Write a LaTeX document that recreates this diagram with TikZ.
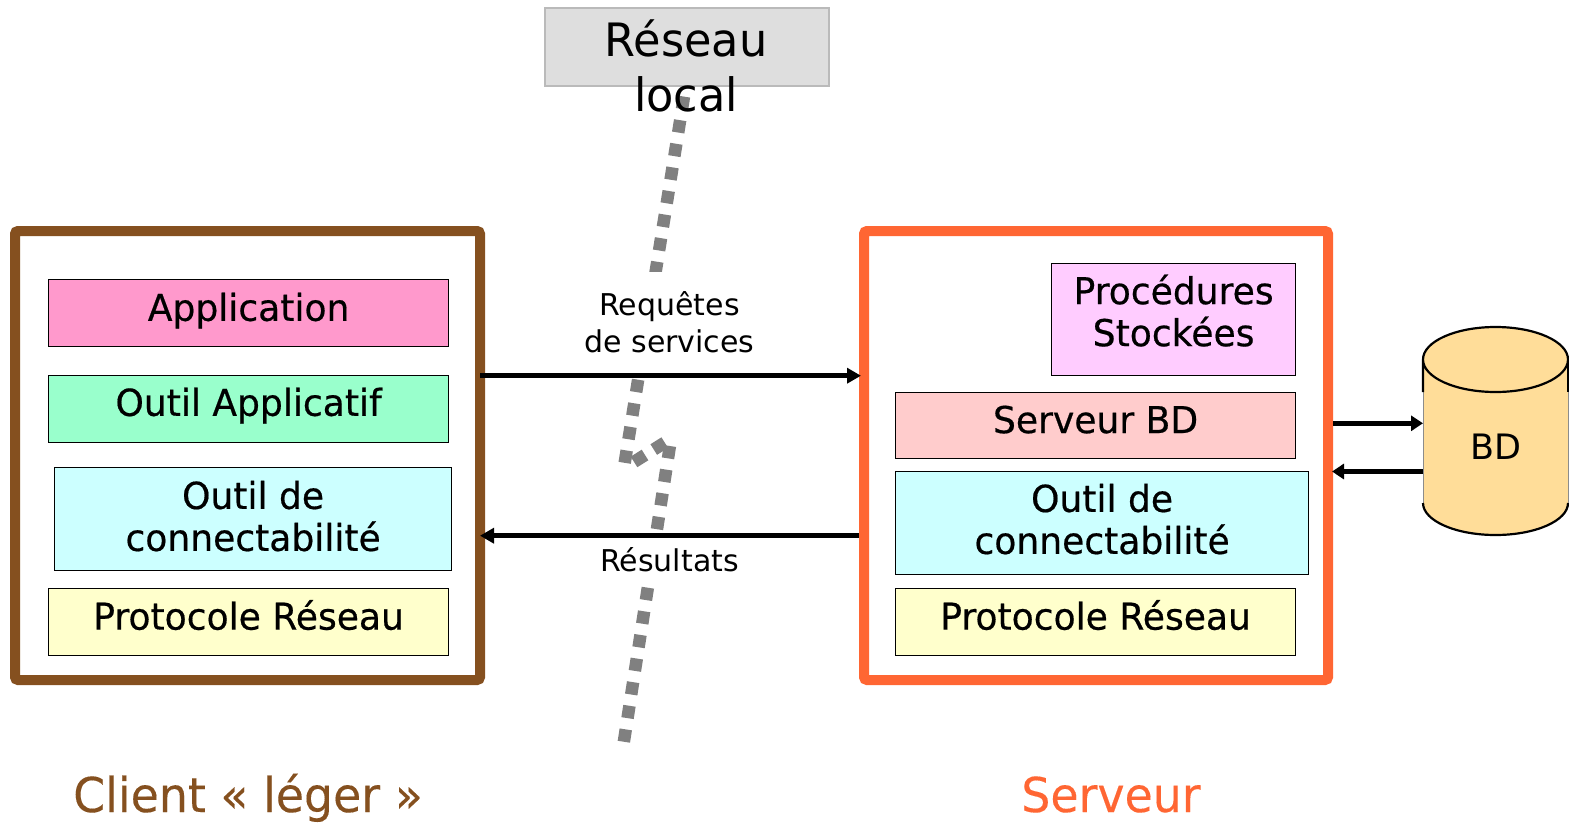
\documentclass[tikz,border=0pt]{standalone}
\usepackage{fontspec}
\setmainfont{DejaVu Sans}
\newfontfamily\boxfont[FakeBold=0.5,FakeStretch=0.975]{DejaVu Sans}
\newfontfamily\titlefont[FakeBold=0.2,FakeStretch=0.955]{DejaVu Sans}
\newfontfamily\lanfont[FakeStretch=0.97]{DejaVu Sans}
\usetikzlibrary{arrows.meta}
\definecolor{brownc}{HTML}{85501F}
\definecolor{orangec}{HTML}{FF6633}
\definecolor{dotc}{HTML}{808080}
\definecolor{dbfill}{HTML}{FFDD99}
\definecolor{pinkc}{HTML}{FF99CC}
\definecolor{greenc}{HTML}{99FFCC}
\definecolor{cyanc}{HTML}{CCFFFF}
\definecolor{yellowc}{HTML}{FFFFCC}
\definecolor{mauvec}{HTML}{FFCCFF}
\definecolor{rosec}{HTML}{FFCCCC}
\tikzset{
  every node/.style={outer sep=0pt},
  frame/.style={draw=#1,line width=10pt,rounded corners=3pt,fill=white,inner sep=0pt,anchor=north west},
  layer/.style={draw=black,line width=1.3pt,fill=#1,inner sep=0pt,anchor=north west,xshift=0.6pt,yshift=-0.6pt},
  boxlabel/.style={font=\boxfont\fontsize{37}{42}\selectfont,align=center,text=black,inner sep=0pt},
  flow/.style={line width=4.5pt,-{Triangle[length=14pt,width=15pt]}},
  smallflow/.style={line width=4.5pt,-{Triangle[length=12pt,width=15pt]}},
  wire/.style={draw=dotc,line width=12.5pt,dash pattern=on 12.5pt off 11.4pt},
  msg/.style={font=\fontsize{30}{37}\selectfont,align=center,fill=white,inner sep=2pt},
  title/.style={font=\titlefont\fontsize{48}{50}\selectfont,inner sep=0pt,anchor=base}
}
% name, x1, y1, x2, y2, colour, text, vertical offset
\newcommand{\layerbox}[8]{%
  \node[layer=#6,minimum width=#4pt-#2pt,minimum height=#5pt-#3pt,
        label={[boxlabel,yshift=#8pt]center:#7}] (#1) at (#2,#3) {};}
\begin{document}
\begin{tikzpicture}[x=1pt,y=-1pt]
\useasboundingbox (0,0) rectangle (1569,822);
% frames
\node[frame=brownc,minimum width=465pt,minimum height=449pt] (client) at (15,231) {};
\node[frame=orangec,minimum width=464pt,minimum height=449pt] (server) at (864,231) {};
% network wire
\draw[wire] (684,96.6) -- (624,467);
\draw[wire,dash pattern=on 13pt off 10.3pt] (634,461.9) -- (664.8,442.6);
\draw[wire] (669.9,446) -- (623.5,744);
% message labels
\node[msg,minimum width=190pt,minimum height=100pt] (req) at (669.5,322) {Requêtes\\de services};
\node[msg,minimum width=170pt,minimum height=52pt] (res) at (669.5,560) {Résultats};
% reseau
\node[draw=black!27,line width=2pt,fill=black!13,minimum width=284pt,minimum height=78pt,anchor=north west,inner sep=0pt] (lan) at (544.5,7.5) {};
\node[font=\lanfont\fontsize{46}{55}\selectfont,align=center,inner sep=0pt] (lantext) at (686,65.5) {Réseau\\local};
% client layers
\layerbox{app}{48}{279}{448}{346}{pinkc}{Application}{2.5}
\layerbox{tool}{48}{375}{448}{442}{greenc}{Outil Applicatif}{3.5}
\layerbox{conn}{54}{467}{451}{570}{cyanc}{Outil de\\connectabilité}{3}
\layerbox{proto}{48}{588}{448}{655}{yellowc}{Protocole Réseau}{7}
% server layers
\layerbox{proc}{1051}{263}{1295}{375}{mauvec}{Procédures\\Stockées}{9}
\layerbox{sbd}{895}{392}{1295}{458}{rosec}{Serveur BD}{6}
\layerbox{sconn}{895}{471}{1308}{574}{cyanc}{Outil de\\connectabilité}{4}
\layerbox{sproto}{895}{588}{1295}{655}{yellowc}{Protocole Réseau}{7}
% database
\fill[dbfill] (1423,359.5) arc[start angle=180,end angle=0,x radius=72.5,y radius=-32.5]
  -- (1568,503) arc[start angle=0,end angle=-180,x radius=72.5,y radius=-32] -- cycle;
\draw[black!45,line width=1pt] (1423,392) -- (1423,503) (1568,392) -- (1568,503);
\draw[line width=2.2pt] (1423,392) -- (1423,359.5) arc[start angle=180,end angle=-180,x radius=72.5,y radius=-32.5];
\draw[line width=2.2pt] (1568,359.5) -- (1568,392);
\draw[line width=2.2pt] (1423,503) arc[start angle=180,end angle=360,x radius=72.5,y radius=-32];
\node[font=\fontsize{35}{40}\selectfont,inner sep=0pt,minimum width=145pt,minimum height=60pt] (bd) at (1495.5,447) {BD};
% arrows
\coordinate (dbin) at (1423,423.3);
\coordinate (dbout) at (1423,471.5);
\draw[flow,shorten >=3pt] (client.east |- 0,375.7) -- (server.west |- 0,375.7);
\draw[flow,shorten <=5pt] (server.west |- 0,535.7) -- (client.east |- 0,535.7);
\draw[smallflow,shorten <=5pt] (server.east |- dbin) -- (dbin);
\draw[smallflow,shorten >=4pt] (dbout) -- (server.east |- dbout);
% titles
\node[title,text=brownc] (ct) at (248,812) {Client « léger »};
\node[title,text=orangec] (st) at (1111,812) {Serveur};
\end{tikzpicture}
\end{document}
